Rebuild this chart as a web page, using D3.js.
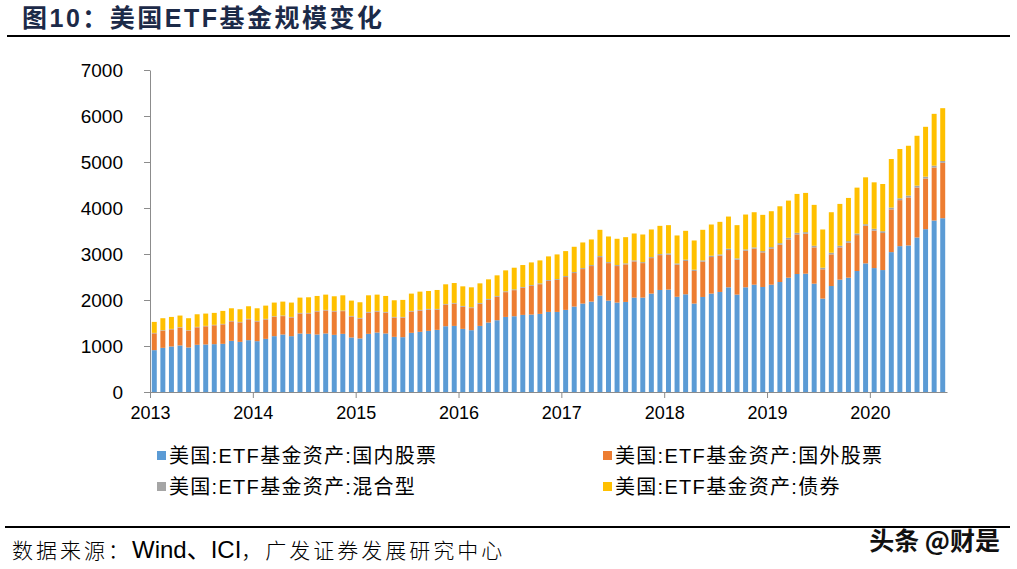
<!DOCTYPE html>
<html>
<head>
<meta charset="utf-8">
<script src="https://cdn.jsdelivr.net/npm/d3@7"></script>
<style>
  body { margin: 0; background: #fff; }
  svg { display: block; }
</style>
</head>
<body>
<div id="chart"></div>
<script>
// categories: monthly, Jan 2013 - Sep 2020
const years = ["2013", "2014", "2015", "2016", "2017", "2018", "2019", "2020"];
const lastYearMonths = 9;

// series values
const domestic = [
  910, 960, 990, 1012, 968, 1026, 1033, 1040, 1047, 1112, 1090, 1127,
  1105, 1155, 1214, 1250, 1214, 1272, 1264, 1250, 1272, 1242, 1264, 1185,
  1164, 1264, 1293, 1272, 1199, 1192, 1286, 1308, 1329, 1351, 1430, 1437,
  1372, 1344, 1437, 1510, 1560, 1632, 1647, 1676, 1683, 1698, 1741, 1741,
  1785, 1857, 1922, 1965, 2095, 1987, 1944, 1958, 2052, 2052, 2139, 2218,
  2226, 2070, 2124, 1922, 2066, 2139, 2175, 2276, 2117, 2276, 2333, 2283,
  2333, 2391, 2485, 2565, 2572, 2355, 2030, 2304, 2442, 2485, 2630, 2796,
  2694, 2651, 3041, 3171, 3186, 3359, 3540, 3728, 3778
];
const foreign = [
  365, 374, 372, 387, 366, 380, 395, 410, 424, 424, 424, 453,
  429, 423, 421, 400, 406, 436, 444, 501, 501, 509, 494, 457,
  432, 462, 455, 454, 418, 425, 462, 462, 462, 440, 469, 484,
  481, 480, 481, 495, 510, 539, 567, 589, 625, 646, 675, 697,
  714, 729, 750, 773, 838, 815, 794, 816, 787, 750, 772, 758,
  759, 697, 724, 709, 767, 795, 788, 810, 759, 795, 782, 752,
  782, 810, 833, 861, 868, 789, 637, 688, 702, 760, 781, 817,
  814, 805, 928, 1000, 1044, 1087, 1101, 1152, 1204
];
const mixed = [
  10, 10, 10, 10, 10, 10, 10, 10, 10, 10, 10, 10,
  12, 12, 12, 12, 12, 12, 12, 12, 12, 12, 12, 12,
  15, 15, 15, 15, 15, 15, 15, 15, 15, 15, 15, 15,
  18, 18, 18, 18, 18, 18, 18, 18, 18, 18, 18, 18,
  22, 22, 22, 22, 22, 22, 22, 22, 22, 22, 22, 22,
  28, 28, 28, 28, 28, 28, 28, 28, 28, 28, 28, 28,
  35, 35, 35, 35, 35, 35, 35, 35, 35, 35, 35, 35,
  40, 40, 40, 40, 40, 40, 40, 40, 40
];
const bond = [
  239, 260, 260, 253, 260, 274, 267, 260, 282, 274, 275, 274,
  274, 288, 297, 303, 312, 332, 339, 325, 332, 318, 332, 333,
  340, 361, 354, 347, 362, 370, 376, 397, 390, 412, 427, 433,
  426, 434, 426, 426, 448, 455, 470, 477, 491, 499, 514, 535,
  542, 549, 557, 556, 571, 557, 571, 570, 585, 600, 600, 614,
  614, 608, 628, 635, 665, 679, 708, 700, 723, 759, 765, 788,
  780, 802, 808, 845, 853, 889, 831, 881, 910, 939, 997, 1019,
  1010, 1026, 1056, 1071, 1083, 1084, 1084, 1127, 1148
];
const yTicks = [0, 1000, 2000, 3000, 4000, 5000, 6000, 7000];

const seriesNames = [
  "美国:ETF基金资产:国内股票",
  "美国:ETF基金资产:国外股票",
  "美国:ETF基金资产:混合型",
  "美国:ETF基金资产:债券"
];
const colors = ["#5B9BD5", "#ED7D31", "#A5A5A5", "#FFC000"];
const keys = ["domestic", "foreign", "mixed", "bond"];

// build month categories and table
const months = [];
years.forEach((yr, i) => {
  const n = i === years.length - 1 ? lastYearMonths : 12;
  for (let m = 1; m <= n; m++) months.push(yr + "-" + String(m).padStart(2, "0"));
});
const table = months.map((m, i) => ({
  month: m, domestic: domestic[i], foreign: foreign[i], mixed: mixed[i], bond: bond[i]
}));

const W = 1017, H = 569;
const svg = d3.select("#chart").append("svg")
  .attr("width", W).attr("height", H)
  .style("font-family", "'Liberation Sans', Arial, 'Noto Sans CJK SC', sans-serif");

// plot area
const plotLeft = 150, plotRight = 947, plotTop = 70, plotBottom = 392;

const x = d3.scaleBand()
  .domain(months)
  .range([plotLeft, plotRight])
  .paddingInner(0.42)
  .paddingOuter(0.21);

const y = d3.scaleLinear()
  .domain([0, 7000])
  .range([plotBottom, plotTop]);

// x axis with year ticks at category boundaries
const xIdx = d3.scaleLinear().domain([0, months.length]).range([plotLeft, plotRight]);
const xAxis = svg.append("g")
  .attr("transform", `translate(0,${plotBottom})`)
  .call(d3.axisBottom(xIdx)
    .tickValues(years.map((d, i) => i * 12))
    .tickFormat((d, i) => years[i])
    .tickSizeInner(6).tickSizeOuter(0).tickPadding(8));
xAxis.selectAll("text").style("font-size", "18px").attr("fill", "#000");
xAxis.selectAll("line, path").attr("stroke", "#8c8c8c");

// y axis
const yAxis = svg.append("g")
  .attr("transform", `translate(${plotLeft},0)`)
  .call(d3.axisLeft(y).tickValues(yTicks).tickFormat(d3.format("d"))
    .tickSizeInner(6).tickSizeOuter(0).tickPadding(21));
yAxis.selectAll("text").style("font-size", "19px").attr("fill", "#000");
yAxis.selectAll("line, path").attr("stroke", "#8c8c8c");

// stacked bars
const stacked = d3.stack().keys(keys)(table);
svg.append("g").selectAll("g")
  .data(stacked)
  .join("g")
  .attr("fill", (d, i) => colors[i])
  .selectAll("rect")
  .data(d => d)
  .join("rect")
  .attr("x", d => x(d.data.month))
  .attr("width", x.bandwidth())
  .attr("y", d => y(d[1]))
  .attr("height", d => y(d[0]) - y(d[1]));

// re-draw axis line on top of bars
svg.append("line")
  .attr("x1", plotLeft).attr("x2", plotRight)
  .attr("y1", plotBottom + 0.5).attr("y2", plotBottom + 0.5)
  .attr("stroke", "#8c8c8c");

// title
svg.append("text")
  .attr("x", 22).attr("y", 27)
  .style("font-size", "25px")
  .style("font-weight", "bold")
  .style("letter-spacing", "2.5px")
  .attr("fill", "#1c2a48")
  .text("图10：美国ETF基金规模变化");

svg.append("line")
  .attr("x1", 7).attr("x2", 1010)
  .attr("y1", 36).attr("y2", 36)
  .attr("stroke", "#000").attr("stroke-width", 2);

// legend
const legendPos = [[157, 456], [603, 456], [157, 487], [603, 487]];
seriesNames.forEach((name, i) => {
  const g = svg.append("g").attr("transform", `translate(${legendPos[i][0]},${legendPos[i][1]})`);
  g.append("rect")
    .attr("x", 0).attr("y", -5)
    .attr("width", 9).attr("height", 9)
    .attr("fill", colors[i]);
  g.append("text")
    .attr("x", 12).attr("y", 0)
    .attr("dy", "0.35em")
    .style("font-size", "20px")
    .style("letter-spacing", "1.3px")
    .attr("fill", "#000")
    .text(name);
});

// bottom rule and source
svg.append("line")
  .attr("x1", 5).attr("x2", 1010)
  .attr("y1", 527).attr("y2", 527)
  .attr("stroke", "#000").attr("stroke-width", 2);

const src = svg.append("text")
  .attr("x", 12).attr("y", 558)
  .attr("fill", "#000");
src.append("tspan").style("font-size", "21px").style("letter-spacing", "3px")
  .style("font-family", "'Noto Sans CJK SC'").style("font-weight", "300").text("数据来源：");
src.append("tspan").style("font-size", "24px").text("Wind、ICI");
src.append("tspan").style("font-size", "21px").style("letter-spacing", "3px")
  .style("font-family", "'Noto Sans CJK SC'").style("font-weight", "300").text("，广发证券发展研究中心");

// watermark
svg.append("text")
  .attr("x", 1000).attr("y", 550)
  .attr("text-anchor", "end")
  .style("font-size", "25px")
  .style("font-family", "'Noto Sans CJK SC'")
  .style("font-weight", "bold")
  .attr("fill", "#111")
  .text("头条 @财是");
</script>
</body>
</html>
